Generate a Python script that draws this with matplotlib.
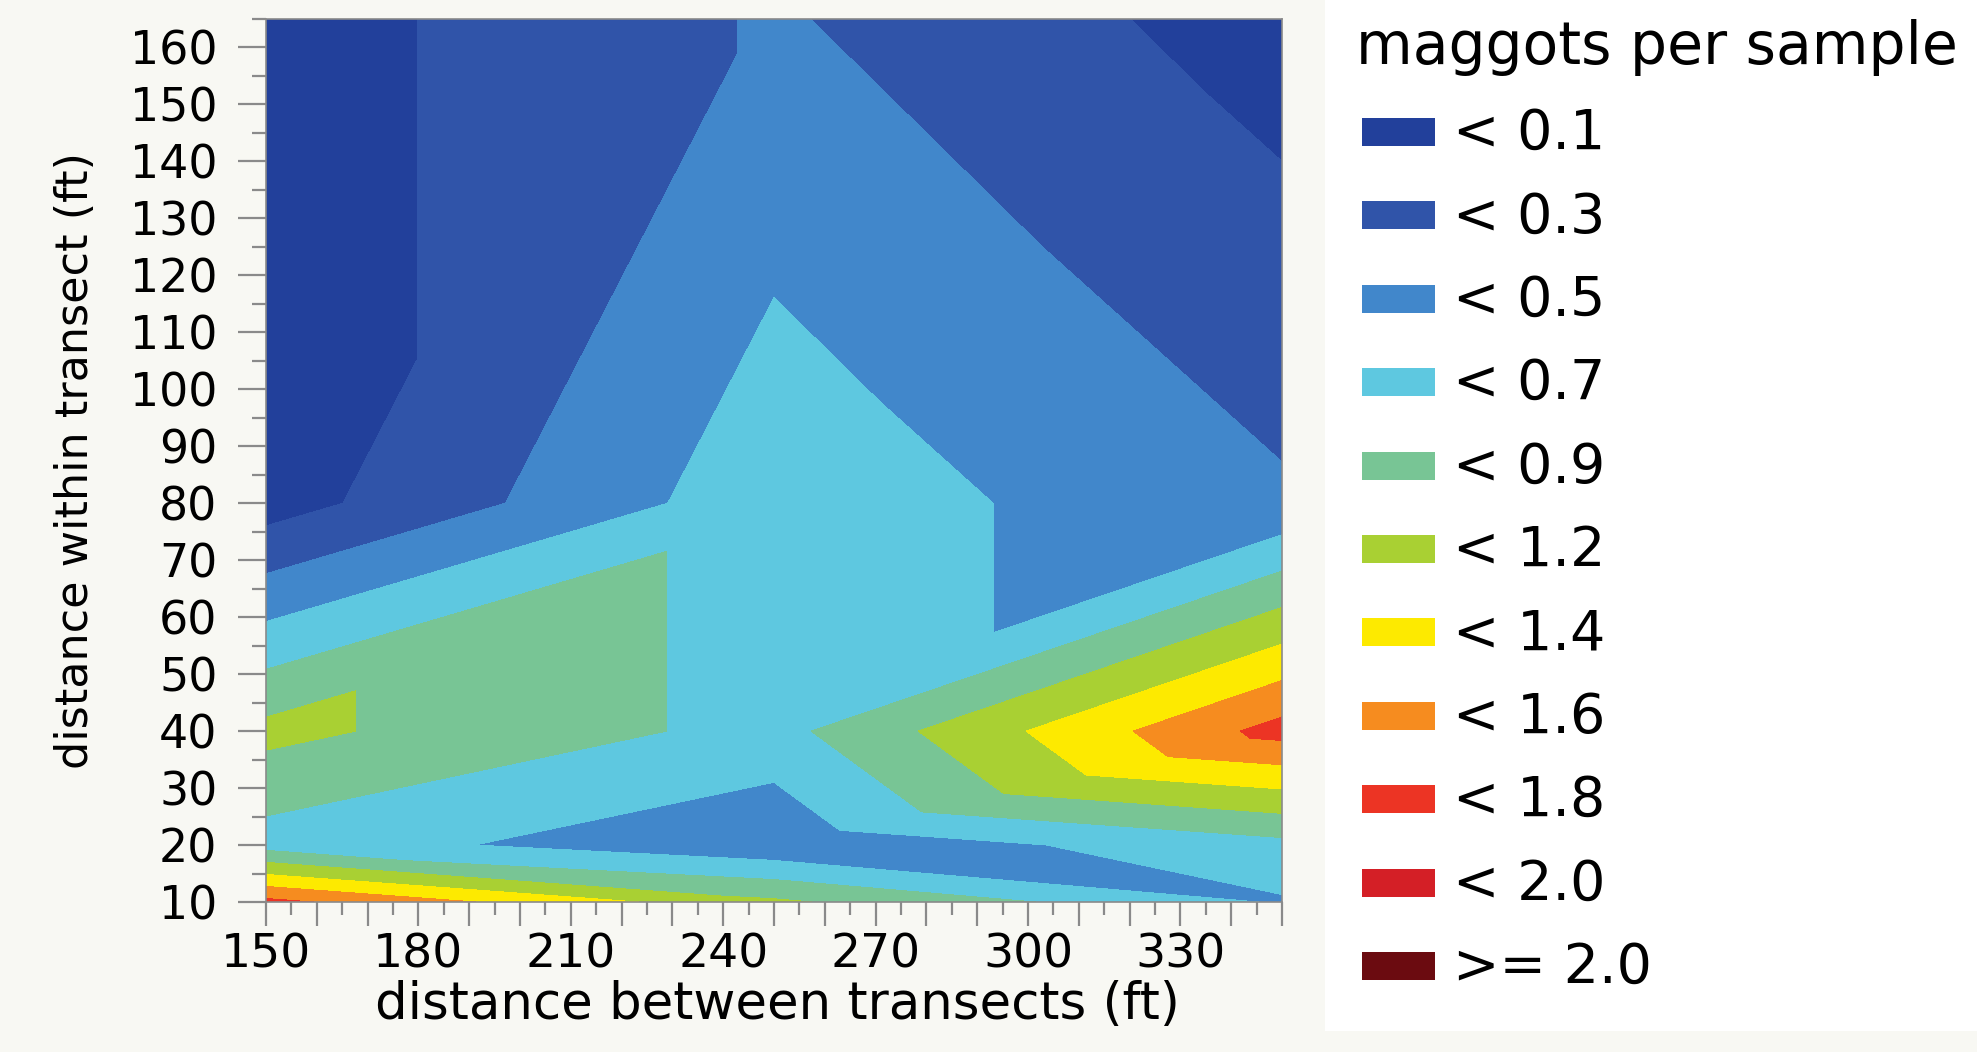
import matplotlib

matplotlib.use("Agg")
import matplotlib.pyplot as plt
import matplotlib.tri as mtri
from matplotlib.patches import Rectangle
import numpy as np

# sample grid: distance between transects (ft) x distance within transect (ft)
between_ft = [150, 250, 350]
within_ft = [10, 20, 40, 80, 165]
# maggots per sample, one row per within-transect distance
maggots = [
    [1.64, 0.98, 0.50],
    [0.64, 0.353, 0.668],
    [1.005, 0.66, 1.66],
    [0.00, 0.66, 0.34],
    [0.00, 0.335, 0.00],
]
# how each row band of the grid is cut into triangles ("/" or "\")
band_split = ["\\", "/", "/", "/"]

level_cuts = [0.1, 0.311, 0.522, 0.733, 0.944, 1.156, 1.367, 1.578, 1.789, 2.0]
level_labels = ["< 0.1", "< 0.3", "< 0.5", "< 0.7", "< 0.9", "< 1.2",
                "< 1.4", "< 1.6", "< 1.8", "< 2.0", ">= 2.0"]
level_colors = ["#22409B", "#3054A9", "#4187CB", "#5EC8E0", "#78C595", "#A9D033",
                "#FDEA00", "#F68C1F", "#EC3424", "#D41F26", "#6B0B10"]

plt.rcParams["font.family"] = ["DejaVu Sans"]

W, H = 1977, 1052
fig = plt.figure(figsize=(W / 100, H / 100), dpi=100, facecolor="#F8F8F3")
fig.add_artist(Rectangle((1325 / W, 0.02), 1 - 1325 / W, 0.98,
                         transform=fig.transFigure, facecolor="white",
                         edgecolor="none", zorder=0))

ax = fig.add_axes([266 / W, 1 - 902 / H, (1282 - 266) / W, (902 - 19) / H])

# triangulate the grid the same way the original contour did
nx = len(between_ft)
tris = []
for j, split in enumerate(band_split):
    for i in range(nx - 1):
        ll, lr = j * nx + i, j * nx + i + 1
        ul, ur = ll + nx, lr + nx
        if split == "/":
            tris += [[ll, lr, ur], [ll, ur, ul]]
        else:
            tris += [[ll, lr, ul], [lr, ur, ul]]

X, Y = np.meshgrid(between_ft, within_ft)
tri = mtri.Triangulation(X.ravel(), Y.ravel(), tris)
Z = np.asarray(maggots).ravel()
ax.tricontourf(tri, Z, levels=[-1.0] + level_cuts + [9.0], colors=level_colors)

ax.set_xlim(150, 350)
ax.set_ylim(10, 165)

xt = list(range(150, 351, 10))
ax.set_xticks(xt)
ax.set_xticklabels([str(v) if (v - 150) % 30 == 0 else "" for v in xt])
ax.set_xticks(list(range(155, 350, 10)), minor=True)
ax.set_yticks(list(range(10, 161, 10)))
ax.set_yticks(list(range(15, 166, 10)), minor=True)

tick_col = "#8a8a8a"
ax.xaxis.set_tick_params(which="major", length=17, width=1.6, color=tick_col,
                         labelsize=34, pad=5)
ax.xaxis.set_tick_params(which="minor", length=9, width=1.6, color=tick_col)
ax.yaxis.set_tick_params(which="major", length=20, width=1.6, color=tick_col,
                         labelsize=33, pad=15)
ax.yaxis.set_tick_params(which="minor", length=10, width=1.6, color=tick_col)
for s in ax.spines.values():
    s.set_color(tick_col)
    s.set_linewidth(1.2)

ax.set_xlabel("distance between transects (ft)", fontsize=37)
ax.xaxis.set_label_coords(0.503, -0.088)
ax.set_ylabel("distance within transect (ft)", fontsize=32)
ax.yaxis.set_label_coords(-0.166, 0.50)

# legend drawn by hand to match the original layout
fig.text(1356 / W, 1 - 47 / H, "maggots per sample", fontsize=42,
         ha="left", va="center")
y0, dy = 132, 83.4
for k, (lab, col) in enumerate(zip(level_labels, level_colors)):
    yc = y0 + k * dy
    fig.add_artist(Rectangle((1362 / W, 1 - (yc + 14) / H), 73 / W, 28 / H,
                             transform=fig.transFigure, facecolor=col,
                             edgecolor="none"))
    fig.text(1453 / W, 1 - (yc + 2) / H, lab, fontsize=40, ha="left", va="center")

fig.savefig("out.png", dpi=100, facecolor=fig.get_facecolor())
